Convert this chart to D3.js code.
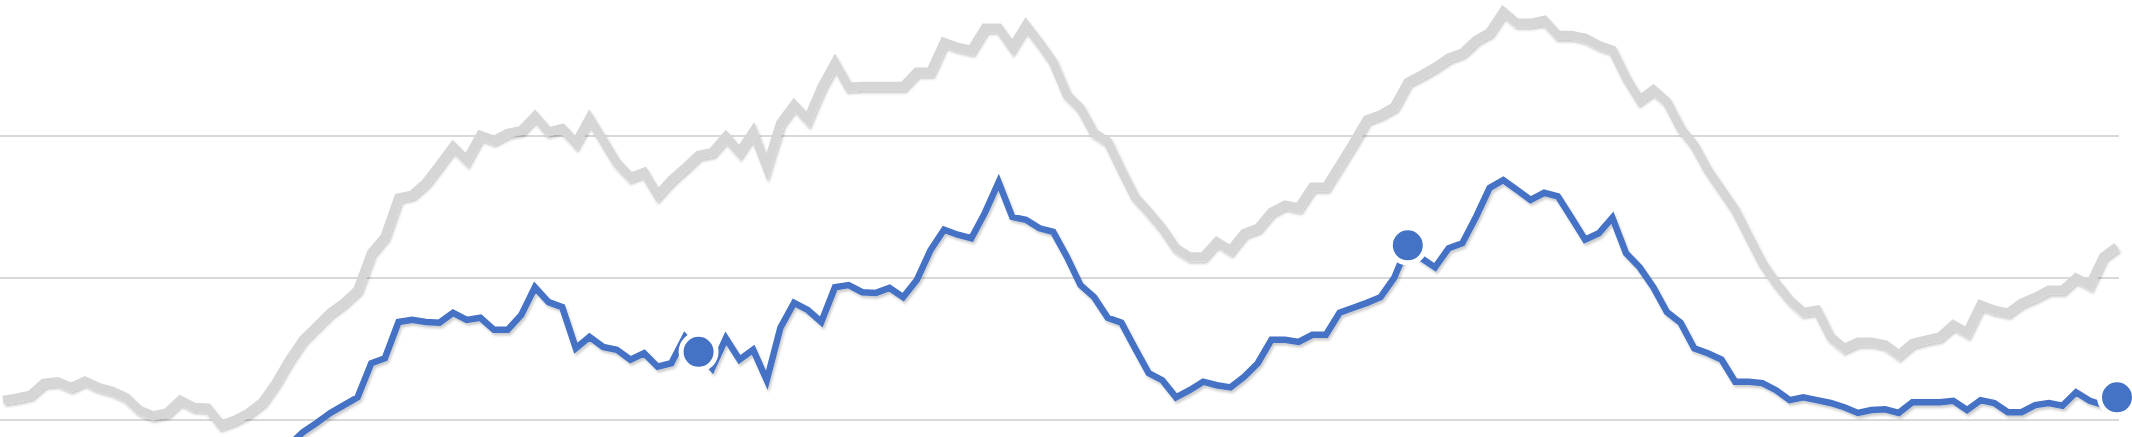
<!DOCTYPE html>
<html>
<head>
<meta charset="utf-8">
<script src="https://cdn.jsdelivr.net/npm/d3@7"></script>
<style>
  html, body { margin: 0; padding: 0; background: #fff; overflow: hidden; }
  svg { display: block; }
</style>
</head>
<body>
<svg id="chart"></svg>
<script>
// Chart size
const WIDTH = 2132, HEIGHT = 437;

// Gridline values
const gridValues = [20, 40, 60];

// Week indices where a marker is drawn (last week of each year)
const yearEnds = [51, 103, 155];

// Gray series, one value per week (156 weeks)
const rangeValues = [
  22.8, 23.1, 23.5, 25.2, 25.4, 24.6, 25.5, 24.6, 24.1, 23.2,
  21.4, 20.6, 21.0, 22.8, 21.8, 21.7, 19.3, 20.0, 21.0, 22.5,
  25.2, 28.5, 31.3, 33.2, 35.1, 36.5, 38.3, 43.5, 45.8, 51.3,
  51.7, 53.4, 55.9, 58.5, 56.6, 60.1, 59.4, 60.4, 60.8, 62.8,
  60.6, 61.1, 59.0, 62.5, 59.4, 56.2, 54.2, 54.9, 51.7, 53.8,
  55.5, 57.3, 57.7, 59.9, 57.7, 60.6, 55.6, 61.8, 64.4, 62.3,
  66.8, 70.3, 66.9, 67.0, 67.0, 67.0, 67.0, 69.0, 69.0, 73.2,
  72.5, 72.1, 75.2, 75.2, 72.5, 75.6, 73.1, 70.4, 65.8, 63.9,
  60.4, 59.2, 55.2, 51.4, 49.3, 47.0, 44.2, 43.0, 43.0, 45.1,
  43.9, 46.3, 47.0, 49.3, 50.3, 49.9, 52.8, 52.8, 55.9, 59.0,
  62.3, 63.0, 64.1, 67.6, 68.6, 69.7, 71.0, 71.7, 73.5, 74.6,
  77.5, 75.9, 75.9, 76.3, 74.2, 74.2, 73.8, 72.8, 72.1, 68.2,
  65.1, 66.5, 64.8, 61.1, 58.7, 55.2, 52.4, 49.6, 45.8, 42.1,
  39.3, 36.9, 35.2, 35.5, 31.7, 30.1, 31.0, 31.0, 30.6, 29.2,
  30.8, 31.3, 31.7, 33.4, 32.3, 36.2, 35.5, 35.1, 36.5, 37.3,
  38.3, 38.3, 40.0, 39.0, 43.0, 44.4
];

// Blue series, one value per week (first weeks fall below the visible area)
const currentValues = [
  null, null, null, null, null, null, null, null, null, null,
  null, null, null, null, null, null, null, null, null, null,
  null, 16.5, 18.3, 19.6, 21.0, 22.1, 23.2, 28.0, 28.7, 33.8,
  34.1, 33.8, 33.7, 35.1, 34.1, 34.4, 32.7, 32.7, 34.8, 38.7,
  36.6, 35.9, 30.1, 31.7, 30.3, 29.9, 28.5, 29.4, 27.5, 28.0,
  31.7, 29.6, 27.3, 31.5, 28.5, 29.9, 25.6, 33.0, 36.5, 35.5,
  33.8, 38.7, 39.0, 38.0, 37.9, 38.6, 37.3, 39.7, 43.9, 46.8,
  46.1, 45.6, 49.2, 53.5, 48.6, 48.2, 47.0, 46.5, 43.0, 39.0,
  37.3, 34.4, 33.7, 30.1, 26.6, 25.6, 23.2, 24.2, 25.4, 24.9,
  24.6, 26.1, 28.0, 31.3, 31.3, 31.0, 32.0, 32.0, 35.1, 35.8,
  36.5, 37.3, 40.0, 44.6, 42.8, 41.5, 44.2, 44.9, 48.6, 52.7,
  53.8, 52.4, 51.0, 52.0, 51.5, 48.5, 45.4, 46.3, 48.5, 43.5,
  41.5, 38.7, 35.2, 33.7, 30.1, 29.4, 28.5, 25.4, 25.4, 25.2,
  24.2, 22.8, 23.2, 22.8, 22.4, 21.8, 21.0, 21.4, 21.5, 21.0,
  22.5, 22.5, 22.5, 22.7, 21.4, 22.8, 22.4, 21.1, 21.1, 22.1,
  22.4, 22.0, 23.9, 22.7, 22.1, 23.2
];

const svg = d3.select('#chart')
  .attr('width', WIDTH)
  .attr('height', HEIGHT);

// Scales
const x = d3.scaleLinear()
  .domain([0, rangeValues.length - 1])
  .range([3, 2117]);

const y = d3.scaleLinear()
  .domain([20, 80])
  .range([420, -6]);

// Soft shadow like the office chart effect
const defs = svg.append('defs');
defs.append('filter')
  .attr('id', 'shadow')
  .attr('x', '-5%').attr('y', '-20%')
  .attr('width', '110%').attr('height', '140%')
  .append('feDropShadow')
  .attr('dx', 1.5)
  .attr('dy', 2.5)
  .attr('stdDeviation', 1.3)
  .attr('flood-color', '#000')
  .attr('flood-opacity', 0.2);

// Horizontal gridlines
svg.append('g')
  .attr('class', 'grid')
  .selectAll('line')
  .data(gridValues)
  .enter().append('line')
  .attr('x1', 0)
  .attr('x2', 2119)
  .attr('y1', d => y(d))
  .attr('y2', d => y(d))
  .attr('stroke', '#d9d9d9')
  .attr('stroke-width', 2);

const line = d3.line()
  .defined(d => d != null)
  .x((d, i) => x(i))
  .y(d => y(d));

// Gray line
svg.append('path')
  .datum(rangeValues)
  .attr('d', line)
  .attr('fill', 'none')
  .attr('stroke', '#d6d6d6')
  .attr('stroke-width', 9)
  .attr('stroke-linejoin', 'miter')
  .attr('filter', 'url(#shadow)');

// Blue line
svg.append('path')
  .datum(currentValues)
  .attr('d', line)
  .attr('fill', 'none')
  .attr('stroke', '#4472c4')
  .attr('stroke-width', 6.5)
  .attr('stroke-linejoin', 'miter')
  .attr('filter', 'url(#shadow)');

// Year-end markers
svg.append('g')
  .selectAll('circle')
  .data(yearEnds)
  .enter().append('circle')
  .attr('cx', d => x(d))
  .attr('cy', d => y(currentValues[d]))
  .attr('r', 17.5)
  .attr('fill', '#4472c4')
  .attr('stroke', '#fff')
  .attr('stroke-width', 5);
</script>
</body>
</html>
